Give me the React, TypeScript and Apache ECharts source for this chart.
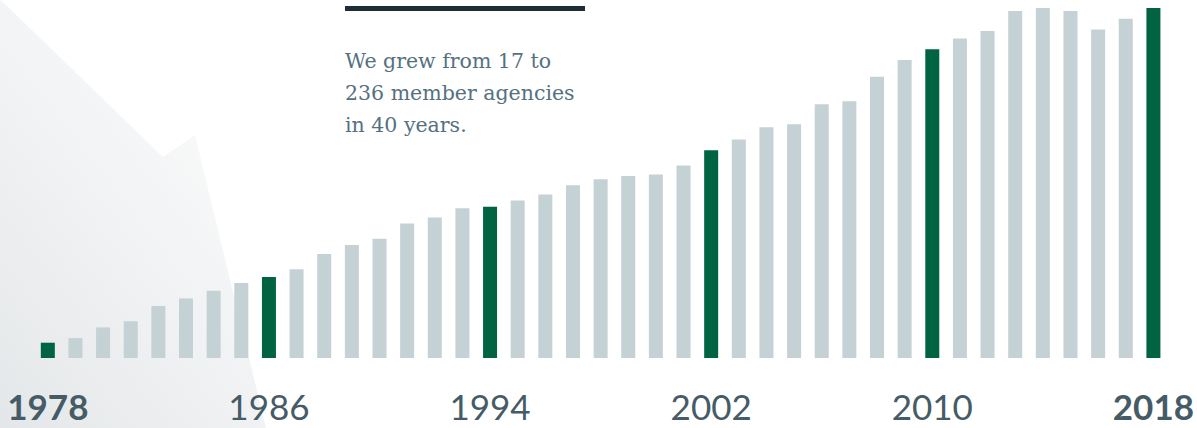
import React, { useEffect, useRef } from "react";
import * as echarts from "echarts";

const years: string[] = [];
for (let y = 1978; y <= 2018; y++) years.push(String(y));

const members: number[] = [
  17, 20, 27, 31, 41, 46, 51, 56, 60, 65,
  75, 81, 85, 95, 99, 105, 106, 110, 114, 120,
  124, 126, 127, 133, 143, 150, 158, 160, 173, 175,
  191, 202, 209, 216, 221, 234, 236, 234, 222, 229,
  236,
];

const highlightYears = ["1978", "1986", "1994", "2002", "2010", "2018"];
const boldYears = ["1978", "2018"];
const caption = ["We grew from 17 to", "236 member agencies", "in 40 years."];

const GREEN = "#006341";
const GREY = "#c4d1d5";

export default function App() {
  const ref = useRef<HTMLDivElement>(null);
  useEffect(() => {
    const chart = echarts.init(ref.current!, null, { renderer: "svg" });
    chart.setOption({
      animation: false,
      backgroundColor: "#ffffff",
      grid: { left: 34, right: 29, top: 8, bottom: 70 },
      xAxis: {
        type: "category",
        data: years,
        axisLine: { show: false },
        axisTick: { show: false },
        axisLabel: {
          interval: 7,
          margin: 30,
          color: "#455b66",
          fontFamily: "Lato",
          fontSize: 35,
          formatter: (v: string) => (boldYears.includes(v) ? `{b|${v}}` : v),
          rich: {
            b: { fontWeight: "bold", fontFamily: "Lato", fontSize: 35, color: "#455b66" },
          },
        },
      },
      yAxis: {
        type: "value",
        min: 7,
        max: 236,
        show: false,
        splitLine: { show: false },
      },
      graphic: [
        {
          type: "polygon",
          z: -10,
          silent: true,
          shape: {
            points: [
              [0, 0], [5, 4], [163, 157], [195, 135], [266, 428], [0, 428],
            ],
          },
          style: {
            fill: new echarts.graphic.LinearGradient(0.8, 0, 0, 1, [
              { offset: 0, color: "#fdfdfd" },
              { offset: 1, color: "#e4e7e9" },
            ]),
          },
        },
        {
          type: "rect",
          silent: true,
          shape: { x: 345, y: 6, width: 240, height: 5 },
          style: { fill: "#1e2e35" },
        },
        {
          type: "text",
          silent: true,
          x: 345,
          y: 45,
          style: {
            text: caption.join("\n"),
            font: "20.5px 'DejaVu Serif'",
            lineHeight: 32,
            fill: "#557180",
            textVerticalAlign: "top",
          },
        },
      ],
      series: [
        {
          type: "bar",
          barWidth: 14,
          data: years.map((y, i) => ({
            value: members[i],
            itemStyle: { color: highlightYears.includes(y) ? GREEN : GREY },
          })),
        },
      ],
    });
    return () => chart.dispose();
  }, []);
  return (
    <div
      ref={ref}
      style={{ position: "fixed", left: 0, top: 0, width: 1197, height: 428 }}
    />
  );
}
